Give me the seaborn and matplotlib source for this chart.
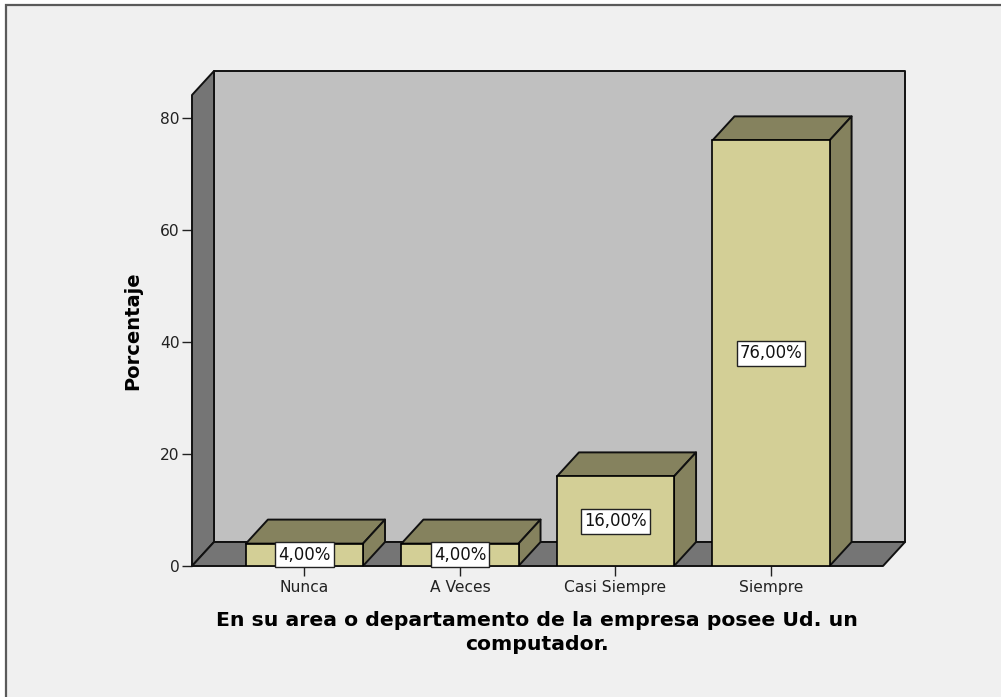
import pandas as pd
import seaborn as sns
import matplotlib.pyplot as plt
from matplotlib.patches import Polygon, Rectangle

categorias = ['Nunca', 'A Veces', 'Casi Siempre', 'Siempre']
porcentajes = [4, 4, 16, 76]
etiquetas = ['4,00%', '4,00%', '16,00%', '76,00%']
yticks = [0, 20, 40, 60, 80]

df = pd.DataFrame({'categoria': categorias, 'porcentaje': porcentajes})

sns.set_theme(style='white')
plt.rcParams['font.family'] = ['DejaVu Sans']

W, H = 1001, 697
fig = plt.figure(figsize=(W / 100, H / 100), dpi=100, facecolor='white')
fig.add_artist(Rectangle((6 / W, -0.01), 1.01, (H - 5) / H + 0.01, transform=fig.transFigure,
                         facecolor='#f0f0f0', edgecolor='#5a5a5a', linewidth=1.6, zorder=-1))

ax = fig.add_axes([192 / W, 1 - 566 / H, (883 - 192) / W, (566 - 95) / H])
ax.patch.set_visible(False)

sns.barplot(data=df, x='categoria', y='porcentaje', color='#d3cf96', saturation=1,
            width=0.753, edgecolor='black', linewidth=1.2, ax=ax, zorder=3)

ax.set_xlim(-0.723, 3.72)
ax.set_ylim(0, 84.1)
dx = 22 / 155.5
dy = 24 / 5.6
x0, x1 = ax.get_xlim()
y1 = ax.get_ylim()[1]

# caja 3D: pared del fondo, pared izquierda y piso
def cara(pts, color, z):
    ax.add_patch(Polygon(pts, closed=True, facecolor=color, edgecolor='#111111',
                         linewidth=1.4, clip_on=False, zorder=z, joinstyle='round'))

n_barras = len(ax.patches)
cara([(x0 + dx, dy), (x1 + dx, dy), (x1 + dx, y1 + dy), (x0 + dx, y1 + dy)], '#c0c0c0', 1)
cara([(x0, 0), (x0 + dx, dy), (x0 + dx, y1 + dy), (x0, y1)], '#757575', 1)
cara([(x0, 0), (x1, 0), (x1 + dx, dy), (x0 + dx, dy)], '#757575', 1)

# caras de arriba y del costado de cada barra
for p in list(ax.patches)[:n_barras]:
    xa = p.get_x()
    xb = xa + p.get_width()
    h = p.get_height()
    cara([(xa, h), (xb, h), (xb + dx, h + dy), (xa + dx, h + dy)], '#85825e', 2)
    cara([(xb, 0), (xb + dx, dy), (xb + dx, h + dy), (xb, h)], '#85825e', 2)

# etiquetas: caja blanca de alto fijo, ancho segun el texto
renderer = fig.canvas.get_renderer()
for i, (v, t) in enumerate(zip(porcentajes, etiquetas)):
    txt = ax.text(i, v / 2, t, ha='center', va='center', fontsize=11.9, color='#111111', zorder=6)
    ancho = (txt.get_window_extent(renderer).width + 6) / 155.5
    alto = 25 / 5.6
    ax.add_patch(Rectangle((i - ancho / 2, v / 2 - alto / 2), ancho, alto, facecolor='white',
                           edgecolor='#222222', linewidth=1, clip_on=False, zorder=5))

sns.despine(ax=ax, top=True, right=True)
ax.spines['left'].set_visible(False)
ax.spines['bottom'].set_visible(False)
ax.set_yticks(yticks)
ax.tick_params(axis='both', length=7.5, width=1, color='#222222', labelsize=11.2,
               labelcolor='#222222', left=True, bottom=True, pad=1.5)
ax.tick_params(axis='x', pad=2.5)

ax.set_ylabel('Porcentaje', fontsize=14, fontweight='bold', color='black')
ax.yaxis.set_label_coords((142 - 192) / 691, 0.5)
ax.set_xlabel('')
fig.text(537 / W, 1 - 621 / H, 'En su area o departamento de la empresa posee Ud. un',
         ha='center', va='center', fontsize=14.7, fontweight='bold', color='black')
fig.text(537 / W, 1 - 645 / H, 'computador.',
         ha='center', va='center', fontsize=14.7, fontweight='bold', color='black')

fig.savefig('out.png', dpi=100, facecolor=fig.get_facecolor())
